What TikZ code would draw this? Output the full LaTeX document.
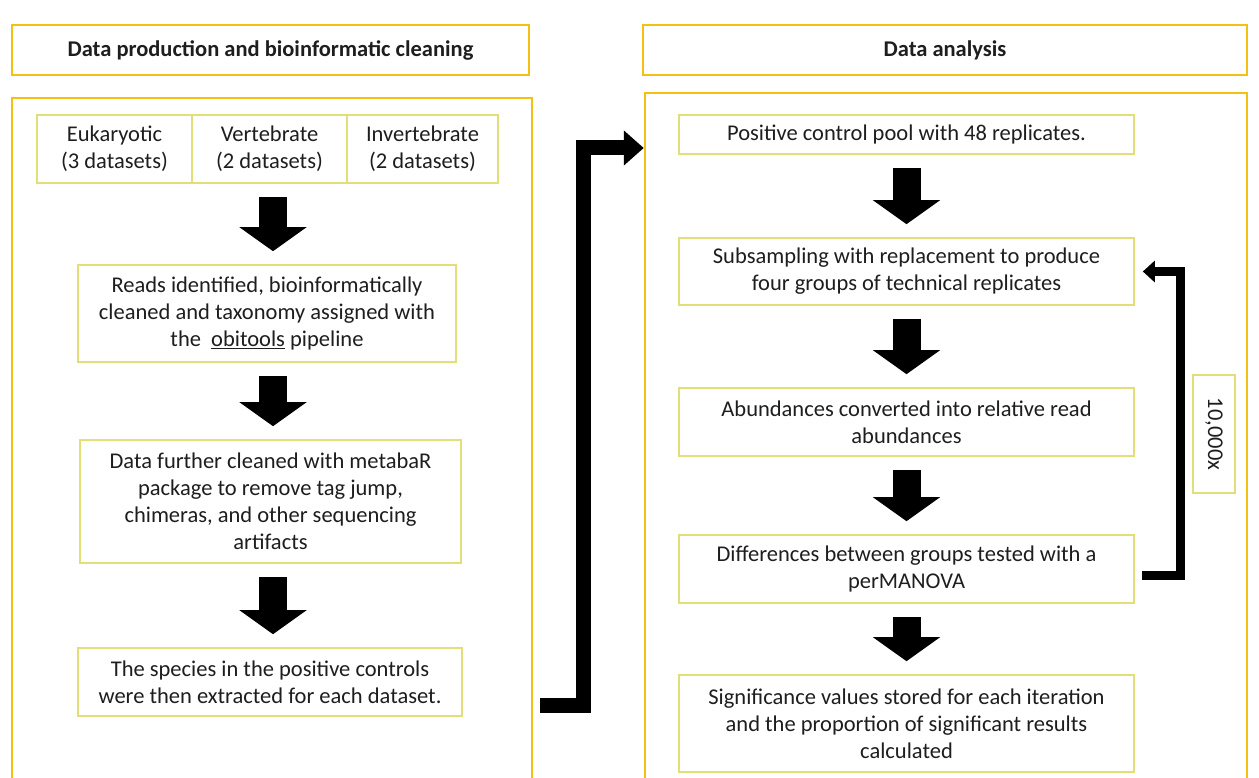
\documentclass[tikz,border=0pt]{standalone}
\usepackage{fontspec}
\setmainfont{Carlito}
\usetikzlibrary{arrows.meta,calc}
\definecolor{outerc}{RGB}{244,192,20}
\definecolor{innerc}{RGB}{226,222,120}
\definecolor{txt}{RGB}{30,30,30}
\begin{document}
\begin{tikzpicture}[x=1pt,y=-1pt,
  every node/.style={font=\fontsize{22.5}{27}\selectfont, text=txt, align=center, inner sep=0pt},
  outerbox/.style={draw=outerc, line width=2.5pt, fill=white},
  headbox/.style={outerbox, font=\fontsize{22.5}{27}\selectfont\bfseries},
  innerbox/.style={draw=innerc, line width=1.6pt, fill=white},
  blockarrow/.style={draw=black, line width=28pt, shorten <=13pt, shorten >=13pt,
     -{Triangle[length=24pt, width=66pt]}},
  bigconn/.style={draw=black, line width=15pt, line join=miter,
     -{Triangle[length=20pt, width=34pt]}},
  loopconn/.style={draw=black, line width=9pt, line join=miter,
     -{Triangle[length=12pt, width=21pt]}}
]
\useasboundingbox (0,0) rectangle (1259,778);
\clip (0,0) rectangle (1259,778);
\fill[white] (0,0) rectangle (1259,778);

% headers
\node[headbox, minimum width=517pt, minimum height=50pt] (lhead) at (270.5,50) {Data production and bioinformatic cleaning};
\node[headbox, minimum width=604pt, minimum height=50pt] (rhead) at (945,50) {Data analysis};

% big panels
\node[outerbox, minimum width=520pt, minimum height=712pt] (lbig) at (272,454) {};
\node[outerbox, minimum width=602pt, minimum height=717pt] (rbig) at (946,451.5) {};

% left column
\node[innerbox, minimum width=155pt, minimum height=68pt] (euk) at (114.5,149) {Eukaryotic\\(3 datasets)};
\node[innerbox, minimum width=155pt, minimum height=68pt] (vert) at (269.5,149) {Vertebrate\\(2 datasets)};
\node[innerbox, minimum width=151pt, minimum height=68pt] (inv) at (422.5,149) {Invertebrate\\(2 datasets)};

\node[innerbox, minimum width=378pt, minimum height=97pt] (reads) at (267,313.5)
  {Reads identified, bioinformatically\\cleaned and taxonomy assigned with\\the\ \ \underline{obitools} pipeline};
\node[innerbox, minimum width=381pt, minimum height=123pt] (further) at (270.5,501.5)
  {Data further cleaned with metabaR\\package to remove tag jump,\\chimeras, and other sequencing\\artifacts};
\node[innerbox, minimum width=384pt, minimum height=68pt] (species) at (270,682)
  {The species in the positive controls\\were then extracted for each dataset.};

\coordinate (lcol) at (273,0);
\draw[blockarrow] (vert.south -| lcol) -- (reads.north -| lcol);
\draw[blockarrow] (reads.south -| lcol) -- (further.north -| lcol);
\draw[blockarrow] (further.south -| lcol) -- (species.north -| lcol);

% right column
\node[innerbox, minimum width=455pt, minimum height=39pt] (pos) at (906.5,134.5) {Positive control pool with 48 replicates.};
\node[innerbox, minimum width=455pt, minimum height=67pt] (sub) at (906.5,271.5)
  {Subsampling with replacement to produce\\four groups of technical replicates};
\node[innerbox, minimum width=455pt, minimum height=68pt] (abund) at (906.5,422)
  {Abundances converted into relative read\\abundances};
\node[innerbox, minimum width=455pt, minimum height=68pt] (diff) at (906.5,569)
  {Differences between groups tested with a\\perMANOVA};
\node[innerbox, minimum width=455pt, minimum height=97pt] (sig) at (906.5,723.5)
  {Significance values stored for each iteration\\and the proportion of significant results\\calculated};

\draw[blockarrow] (pos) -- (sub);
\draw[blockarrow] (sub) -- (abund);
\draw[blockarrow] (abund) -- (diff);
\draw[blockarrow] (diff) -- (sig);

% iteration loop
\node[innerbox, minimum width=118pt, minimum height=42pt, rotate=-90] (iter) at (1214,434) {10,000x};
\coordinate (loopx) at (1180,0);
\coordinate (loopstart) at (1142,575);
\draw[loopconn] (loopstart) -| (loopx |- sub.east) -- ([xshift=8pt]sub.east);

% connector between panels
\coordinate (cstart) at (540,705);
\coordinate (cmid) at (583,148);
\draw[bigconn] (cstart) -| (cmid) -- (rbig.west |- cmid);
\end{tikzpicture}
\end{document}
